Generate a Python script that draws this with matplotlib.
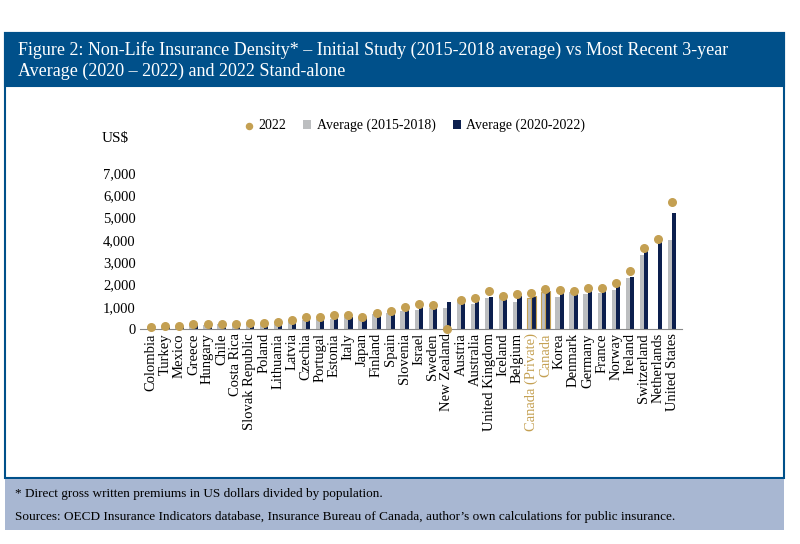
import matplotlib
matplotlib.use("Agg")
import matplotlib.pyplot as plt
import numpy as np
from matplotlib.patches import Rectangle

countries = ["Colombia","Turkey","Mexico","Greece","Hungary","Chile","Costa Rica","Slovak Republic",
 "Poland","Lithuania","Latvia","Czechia","Portugal","Estonia","Italy","Japan","Finland","Spain",
 "Slovenia","Israel","Sweden","New Zealand","Austria","Australia","United Kingdom","Iceland","Belgium",
 "Canada (Private)","Canada","Korea","Denmark","Germany","France","Norway","Ireland","Switzerland",
 "Netherlands","United States"]
avg_2015_2018 = [50,70,130,170,160,210,200,230,240,220,300,400,440,460,560,530,680,730,810,860,940,960,
 1220,1120,1400,1440,1200,1400,1640,1450,1660,1560,1620,1760,2280,3300,0,3980]
avg_2020_2022 = [60,80,140,190,190,230,210,250,260,270,330,480,470,550,560,520,660,720,920,1040,1000,1200,
 1230,1320,1420,1420,1460,1500,1700,1700,1620,1720,1730,1980,2350,3600,4150,5200]
y2022 = [80,120,150,210,210,240,225,270,270,315,390,540,525,630,615,555,720,795,1000,1140,1065,0,
 1290,1410,1690,1500,1560,1600,1800,1770,1710,1840,1840,2050,2610,3640,4030,5700]
highlight = ["Canada (Private)","Canada"]

plt.rcParams['font.family'] = ['Liberation Serif','DejaVu Serif']
GOLD = "#c4a052"; NAVY = "#0c1f4e"; GRAY = "#bcbec0"; BLUE = "#00508a"

fig = plt.figure(figsize=(8,5.44), dpi=100)
for (x0,y0,x1,y1,fc,ecl) in [(5,33,784,478,"white",BLUE),(5,33,784,86,BLUE,BLUE),(5,479,784,530,"#a8b7d2","none")]:
    r = Rectangle((x0/800,1-y1/544),(x1-x0)/800,(y1-y0)/544,transform=fig.transFigure,
                  facecolor=fc,edgecolor=ecl,lw=1.5,zorder=-10)
    fig.patches.append(r)
fig.text(18/800,1-50/544,"Figure 2: Non-Life Insurance Density* – Initial Study (2015-2018 average) vs Most Recent 3-year",
         color="white",fontsize=13,va="center")
fig.text(18/800,1-71/544,"Average (2020 – 2022) and 2022 Stand-alone",color="white",fontsize=13,va="center")
fig.text(15/800,1-494/544,"* Direct gross written premiums in US dollars divided by population.",fontsize=9.5,va="center")
fig.text(15/800,1-517/544,"Sources: OECD Insurance Indicators database, Insurance Bureau of Canada, author’s own calculations for public insurance.",fontsize=9.5,va="center")

ax = fig.add_axes([140/800, 1-329/544, 542/800, (329-173)/544])
ax.patch.set_alpha(0)
x = np.arange(len(countries))
w = 0.3
ec = [GOLD if c in highlight else "none" for c in countries]
ax.bar(x-w/2, avg_2015_2018, w, color=GRAY, edgecolor=ec, lw=0.8, label="Average (2015-2018)")
ax.bar(x+w/2, avg_2020_2022, w, color=NAVY, edgecolor=ec, lw=0.8, label="Average (2020-2022)")
ax.scatter(x, y2022, s=30, color=GOLD, zorder=3, label="2022", clip_on=False)
ax.set_ylim(0,7000)
ax.set_xlim(-0.8, len(countries)-0.3)
ax.set_yticks(range(0,7001,1000))
ax.set_yticklabels([f"{v:,}" for v in range(0,7001,1000)], fontsize=10.5)
ax.set_xticks(x)
ax.set_xticklabels(countries, rotation=90, fontsize=10.5)
for lbl in ax.get_xticklabels():
    if lbl.get_text() in highlight:
        lbl.set_color(GOLD)
for s in ["top","right","left"]:
    ax.spines[s].set_visible(False)
ax.spines["bottom"].set_color("#888888")
ax.tick_params(length=0, pad=3)
ax.text(-0.07, 1.2, "US$", transform=ax.transAxes, fontsize=11)
ax.legend(loc="lower left", bbox_to_anchor=(0.17,1.18), ncol=3, frameon=False, fontsize=10,
          handlelength=0.6, handletextpad=0.4, columnspacing=1.2, markerscale=0.8)
fig.savefig("out.png", dpi=100)
